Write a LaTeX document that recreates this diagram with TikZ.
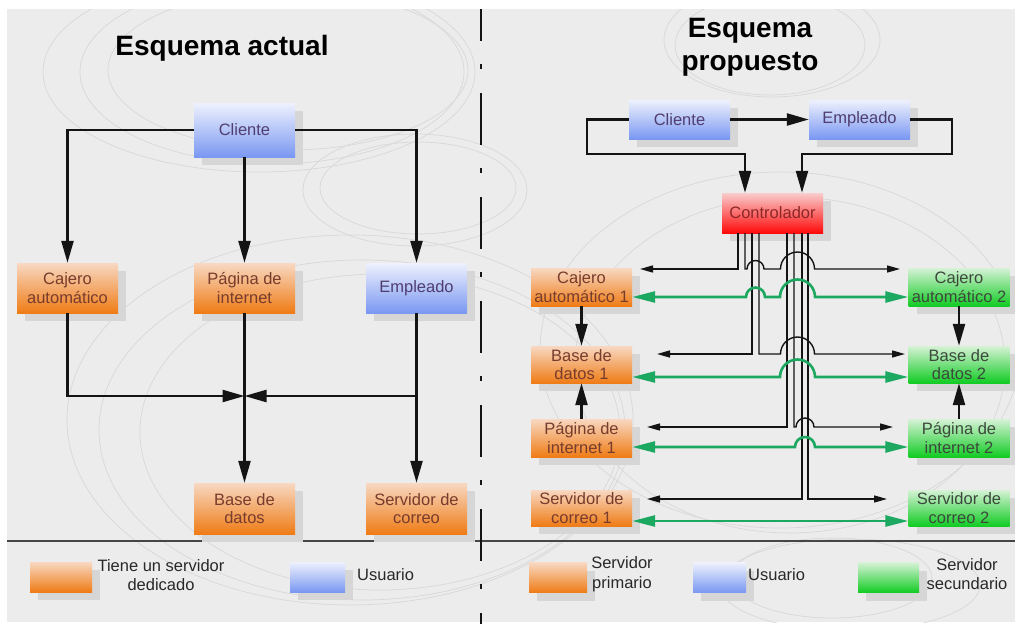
\documentclass[tikz,border=0pt]{standalone}
\usepackage{fontspec}
\setmainfont{Liberation Sans}
\usetikzlibrary{arrows.meta,shadows}

\definecolor{paper}{RGB}{236,236,236}
\definecolor{ring}{RGB}{216,216,216}
\definecolor{shadegray}{RGB}{214,214,214}
\definecolor{sepgray}{RGB}{70,70,70}
\definecolor{orTop}{RGB}{248,216,194}
\definecolor{orBot}{RGB}{239,124,22}
\definecolor{blTop}{RGB}{238,241,253}
\definecolor{blBot}{RGB}{122,152,242}
\definecolor{grTop}{RGB}{214,242,214}
\definecolor{grBot}{RGB}{18,204,36}
\definecolor{rdTop}{RGB}{250,205,205}
\definecolor{rdBot}{RGB}{255,10,10}
\definecolor{orText}{RGB}{120,60,45}
\definecolor{blText}{RGB}{80,62,112}
\definecolor{rdText}{RGB}{140,40,40}
\definecolor{grText}{RGB}{60,72,60}
\definecolor{link}{RGB}{28,168,96}
\definecolor{ink}{RGB}{20,20,20}

\tikzset{
  x=1pt, y=-1pt,
  box/.style={rectangle, inner sep=0pt, minimum width=101pt, align=center,
    font=\fontsize{16.5}{18.5}\selectfont,
    drop shadow={shadow xshift=8pt, shadow yshift=-8pt, fill=shadegray, opacity=1}},
  primary/.style={box, top color=orTop, bottom color=orBot, text=orText},
  secondary/.style={box, top color=grTop, bottom color=grBot, text=grText},
  user/.style={box, top color=blTop, bottom color=blBot, text=blText},
  ctrlbox/.style={box, top color=rdTop, bottom color=rdBot, text=rdText},
  title/.style={inner sep=0pt, align=center, text=black,
    font=\fontsize{28}{33}\selectfont\bfseries},
  keytext/.style={inner sep=0pt, align=center, text={rgb,255:red,40;green,40;blue,40},
    font=\fontsize{16.5}{19.5}\selectfont},
  flow/.style={line width=2.4pt, draw=ink, -{Triangle[length=22pt,width=12pt]}},
  wire/.style={line width=1.4pt, draw=ink, -{Triangle[length=13pt,width=7pt]}},
  feed/.style={line width=1.4pt, draw=ink},
  sync/.style={line width=2.6pt, draw=link,
    {Triangle[length=23pt,width=11pt]}-{Triangle[length=23pt,width=11pt]}},
  deco/.style={draw=ring, line width=0.7pt},
}

\begin{document}
\begin{tikzpicture}
\useasboundingbox (0,0) rectangle (1015,624);
\fill[white] (0,0) rectangle (1015,624);
\fill[paper] (7,9) rectangle (1015,622);

% faint decorative rings of the slide background
\begin{scope}
\clip (7,9) rectangle (1015,622);
\draw[deco] (259,72) ellipse [x radius=216pt, y radius=100pt];
\draw[deco] (272,72) ellipse [x radius=192pt, y radius=92pt];
\draw[deco] (288,70) ellipse [x radius=180pt, y radius=80pt];
\draw[deco] (415,190) ellipse [x radius=112pt, y radius=56pt];
\draw[deco] (418,188) ellipse [x radius=98pt, y radius=46pt];
\draw[deco] (772,40) ellipse [x radius=108pt, y radius=57pt];
\draw[deco] (770,45) ellipse [x radius=95pt, y radius=50pt];
\draw[deco] (780,350) ellipse [x radius=240pt, y radius=178pt];
\draw[deco] (790,365) ellipse [x radius=215pt, y radius=168pt];
\draw[deco] (350,420) ellipse [x radius=283pt, y radius=185pt];
\draw[deco] (362,430) ellipse [x radius=263pt, y radius=170pt];
\draw[deco] (380,432) ellipse [x radius=240pt, y radius=158pt];
\draw[deco] (832,578) ellipse [x radius=100pt, y radius=40pt];
\draw[deco] (850,585) ellipse [x radius=130pt, y radius=46pt];
\end{scope}

% dividers
\draw[line width=1.5pt, draw=sepgray] (7,541) -- (1015,541);
\draw[line width=2.4pt, draw=ink, dash pattern=on 52pt off 23pt on 5pt off 24pt, dash phase=20pt]
  (481,9) -- (481,624);

% titles
\node[title] (titA) at (222,48) {Esquema actual};
\node[title] (titB) at (750,47.5) {Esquema\\propuesto};

% ---------- current scheme ----------
\node[user, minimum height=54pt] (cliA) at (244.5,130) {Cliente};
\node[primary, minimum height=50pt] (cajA) at (67.5,288) {Cajero\\automático};
\node[primary, minimum height=50pt] (pagA) at (244.5,288) {Página de\\internet};
\node[user, minimum height=50pt] (empA) at (416.5,288) {Empleado};
\node[primary, minimum height=51pt] (basA) at (244.5,508.5) {Base de\\datos};
\node[primary, minimum height=51pt] (serA) at (416.5,508.5) {Servidor de\\correo};

\coordinate (mix) at (244.5,396);
\draw[flow] (cliA.west) -| (cajA.north);
\draw[flow] (cliA.south) -- (pagA.north);
\draw[flow] (cliA.east) -| (empA.north);
\draw[flow] (cajA.south) |- (mix);
\draw[flow] (empA.south |- mix) -- (mix);
\draw[flow] (empA.south) -- (serA.north);
\draw[flow] (pagA.south) -- (basA.north);

% ---------- proposed scheme ----------
\node[user, minimum height=39pt] (cliB) at (679.5,119.5) {Cliente};
\node[user, minimum height=39pt] (empB) at (859.5,119.5) {Empleado};
\node[ctrlbox, minimum height=40pt] (ctl) at (772.5,213) {Controlador};

\node[primary, minimum height=38pt] (cajP) at (581.5,287) {Cajero\\automático 1};
\node[primary, minimum height=37pt] (basP) at (581.5,364.5) {Base de\\datos 1};
\node[primary, minimum height=38pt] (pagP) at (581.5,438) {Página de\\internet 1};
\node[primary, minimum height=36pt] (serP) at (581.5,508) {Servidor de\\correo 1};
\node[secondary, minimum height=38pt] (cajS) at (959,287) {Cajero\\automático 2};
\node[secondary, minimum height=37pt] (basS) at (959,364.5) {Base de\\datos 2};
\node[secondary, minimum height=38pt] (pagS) at (959,438) {Página de\\internet 2};
\node[secondary, minimum height=36pt] (serS) at (959,508) {Servidor de\\correo 2};

% users into the controller
\coordinate (inL) at ([xshift=-27.5pt]ctl.north);
\coordinate (inR) at ([xshift=29.5pt]ctl.north);
\draw[flow] (cliB.east) -- (empB.west);
\draw[flow] (cliB.west) -| (587,154) -| (inL);
\draw[flow] (empB.east) -| (952,154) -| (inR);

% controller outputs
\coordinate (o1) at ([xshift=-34.5pt]ctl.south);
\coordinate (o2) at ([xshift=-27.5pt]ctl.south);
\coordinate (o3) at ([xshift=-20.5pt]ctl.south);
\coordinate (o4) at ([xshift=-13.5pt]ctl.south);
\coordinate (o5) at ([xshift=14.5pt]ctl.south);
\coordinate (o6) at ([xshift=21.5pt]ctl.south);
\coordinate (o7) at ([xshift=29.5pt]ctl.south);
\coordinate (o8) at ([xshift=35.5pt]ctl.south);

\coordinate (tC1) at (640,269);
\coordinate (tC2) at (900,269);
\coordinate (tB1) at (657,354);
\coordinate (tB2) at (905,354);
\coordinate (tP1) at (647,427);
\coordinate (tP2) at (893,427);
\coordinate (tS1) at (647,499);
\coordinate (tS2) at (887,499);

\draw[wire] (o1) |- (tC1);
\draw[wire] (o2) |- (747,269) arc[start angle=180, end angle=0, radius=8.5pt]
  -- (780.5,269) arc[start angle=180, end angle=0, radius=17pt] -- (tC2);
\draw[wire] (o3) |- (tB1);
\draw[wire] (o4) |- (780.5,354) arc[start angle=180, end angle=0, radius=17pt] -- (tB2);
\draw[wire] (o5) |- (tP1);
\draw[wire] (o6) |- (796,427) arc[start angle=180, end angle=0, radius=9pt] -- (tP2);
\draw[wire] (o7) |- (tS1);
\draw[wire] (o8) |- (tS2);

% replication between primary and secondary servers
\draw[sync] ([yshift=-10pt]cajP.east) -- (746,297)
  arc[start angle=180, end angle=0, radius=9.5pt] -- (780,297)
  arc[start angle=180, end angle=0, radius=17.5pt] -- ([yshift=-10pt]cajS.west);
\draw[sync] ([yshift=-12.5pt]basP.east) -- (780,377)
  arc[start angle=180, end angle=0, radius=17.5pt] -- ([yshift=-12.5pt]basS.west);
\draw[sync] ([yshift=-9pt]pagP.east) -- (795,447)
  arc[start angle=180, end angle=0, radius=10pt] -- ([yshift=-9pt]pagS.west);
\draw[sync] ([yshift=-13pt]serP.east) -- ([yshift=-13pt]serS.west);

% flows inside each column
\draw[flow] (cajP.south) -- (basP.north);
\draw[flow] (pagP.north) -- (basP.south);
\draw[flow] (cajS.south) -- (basS.north);
\draw[flow] (pagS.north) -- (basS.south);

% ---------- legends ----------
\node[primary, minimum width=62pt, minimum height=30pt] (keyA1) at (61,577) {};
\node[keytext] (labA1) at (161,575) {Tiene un servidor\\dedicado};
\node[user, minimum width=55pt, minimum height=30pt] (keyA2) at (317.5,577) {};
\node[keytext, anchor=west] (labA2) at (357,575) {Usuario};

\node[primary, minimum width=58pt, minimum height=30pt] (keyB1) at (558,577.5) {};
\node[keytext] (labB1) at (622,574) {Servidor\\primario};
\node[user, minimum width=53pt, minimum height=30pt] (keyB2) at (719.5,577.5) {};
\node[keytext, anchor=west] (labB2) at (748,575) {Usuario};
\node[secondary, minimum width=61pt, minimum height=30pt] (keyB3) at (888.5,577.5) {};
\node[keytext] (labB3) at (967,574) {Servidor\\secundario};
\end{tikzpicture}
\end{document}
